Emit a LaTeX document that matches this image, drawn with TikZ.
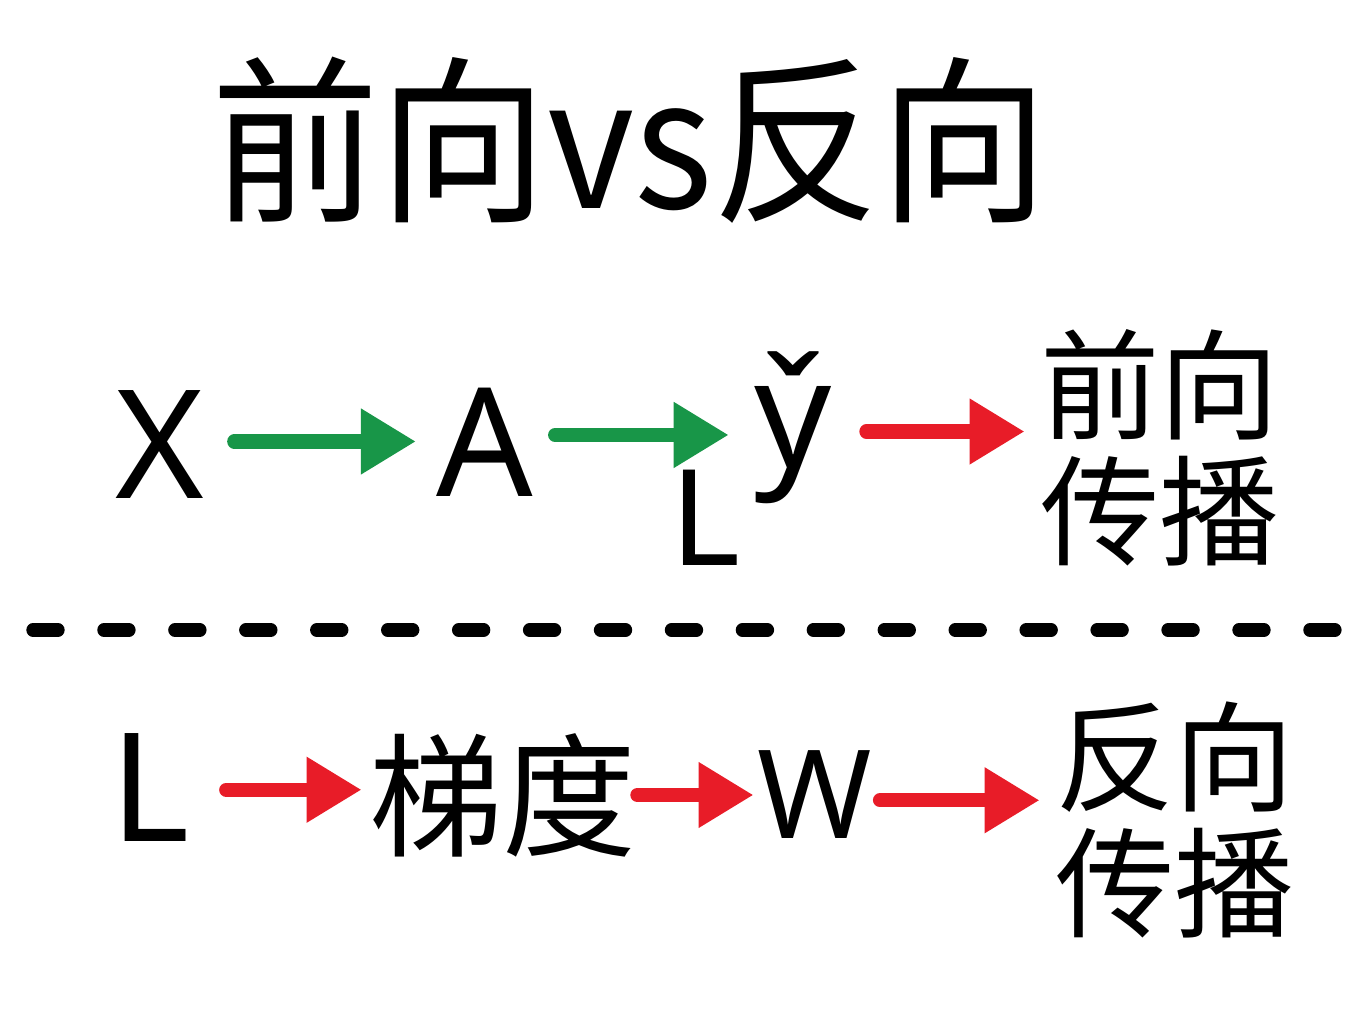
\documentclass[tikz,border=0pt]{standalone}
\usepackage{fontspec}
\setmainfont{Noto Sans}
\newfontfamily\cjk{Noto Sans CJK SC}
\usetikzlibrary{arrows.meta}
\definecolor{pgreen}{RGB}{24,150,72}
\definecolor{pred}{RGB}{232,28,40}
\tikzset{
  titletext/.style={inner sep=0pt, font=\cjk\fontsize{51}{51}\selectfont},
  letter/.style={inner sep=0pt, font=\fontsize{43}{43}\selectfont},
  smallletter/.style={inner sep=0pt, font=\fontsize{38}{38}\selectfont},
  wletter/.style={inner sep=0pt, font=\fontsize{35}{35}\selectfont},
  cjkword/.style={inner sep=0pt, font=\cjk\fontsize{38}{38}\selectfont},
  caption/.style={inner sep=0pt, align=center, font=\cjk\fontsize{34}{36}\selectfont},
  arr/.style={line width=4pt, line cap=round, -{Triangle[length=0.55cm,width=0.62cm]}},
  garrow/.style={arr, draw=pgreen},
  rarrow/.style={arr, draw=pred},
  divider/.style={line width=3.8pt, line cap=round, dash pattern=on 0.25cm off 0.459cm}
}
\begin{document}
\begin{tikzpicture}[x=0.01cm,y=-0.01cm]
\fill[white] (0,0) rectangle (1365,1024);
\useasboundingbox (0,0) rectangle (1365,1024);
% title
\node[titletext] (title) at (630,140) {\scalebox{0.935}[1]{前向vs反向}};
% row 1
\node[letter] (X) at (160,445) {X};
\node[letter] (A) at (485,442) {A};
\node[letter] (yh) at (793,428) {y̌};
\node[smallletter] (L1) at (706,518) {L};
\node[caption] (fw) at (1160,448) {前向\\传播};
\draw[garrow] ([xshift=8.3pt,yshift=1pt]X.east) -- ([xshift=-5.7pt,yshift=1pt]X.east -| A.west);
\draw[garrow] ([xshift=6pt,yshift=2pt]A.east) -- ([xshift=-7.1pt,yshift=2pt]A.east -| yh.west);
\draw[rarrow] ([xshift=9.7pt,yshift=-1pt]yh.east) -- ([xshift=-4.3pt,yshift=-1pt]yh.east -| fw.west);
% divider
\coordinate (dl) at (33,630);
\coordinate (dr) at (1335,630);
\draw[divider] (dl) -- (dr);
% row 2
\node[letter] (L2) at (150,788) {L};
\node[cjkword] (td) at (503,795) {梯度};
\node[wletter] (W) at (815,795) {W};
\node[caption] (bw) at (1175,820) {反向\\传播};
\draw[rarrow] ([xshift=10.2pt,yshift=-0.5pt]L2.east) -- ([xshift=-2pt,yshift=-0.5pt]L2.east -| td.west);
\draw[rarrow] ([xshift=0pt]td.east) -- ([xshift=-1pt]td.east -| W.west);
\draw[rarrow] ([xshift=2pt,yshift=-1.5pt]W.east) -- ([xshift=-4.3pt,yshift=-1.5pt]W.east -| bw.west);
\end{tikzpicture}
\end{document}
